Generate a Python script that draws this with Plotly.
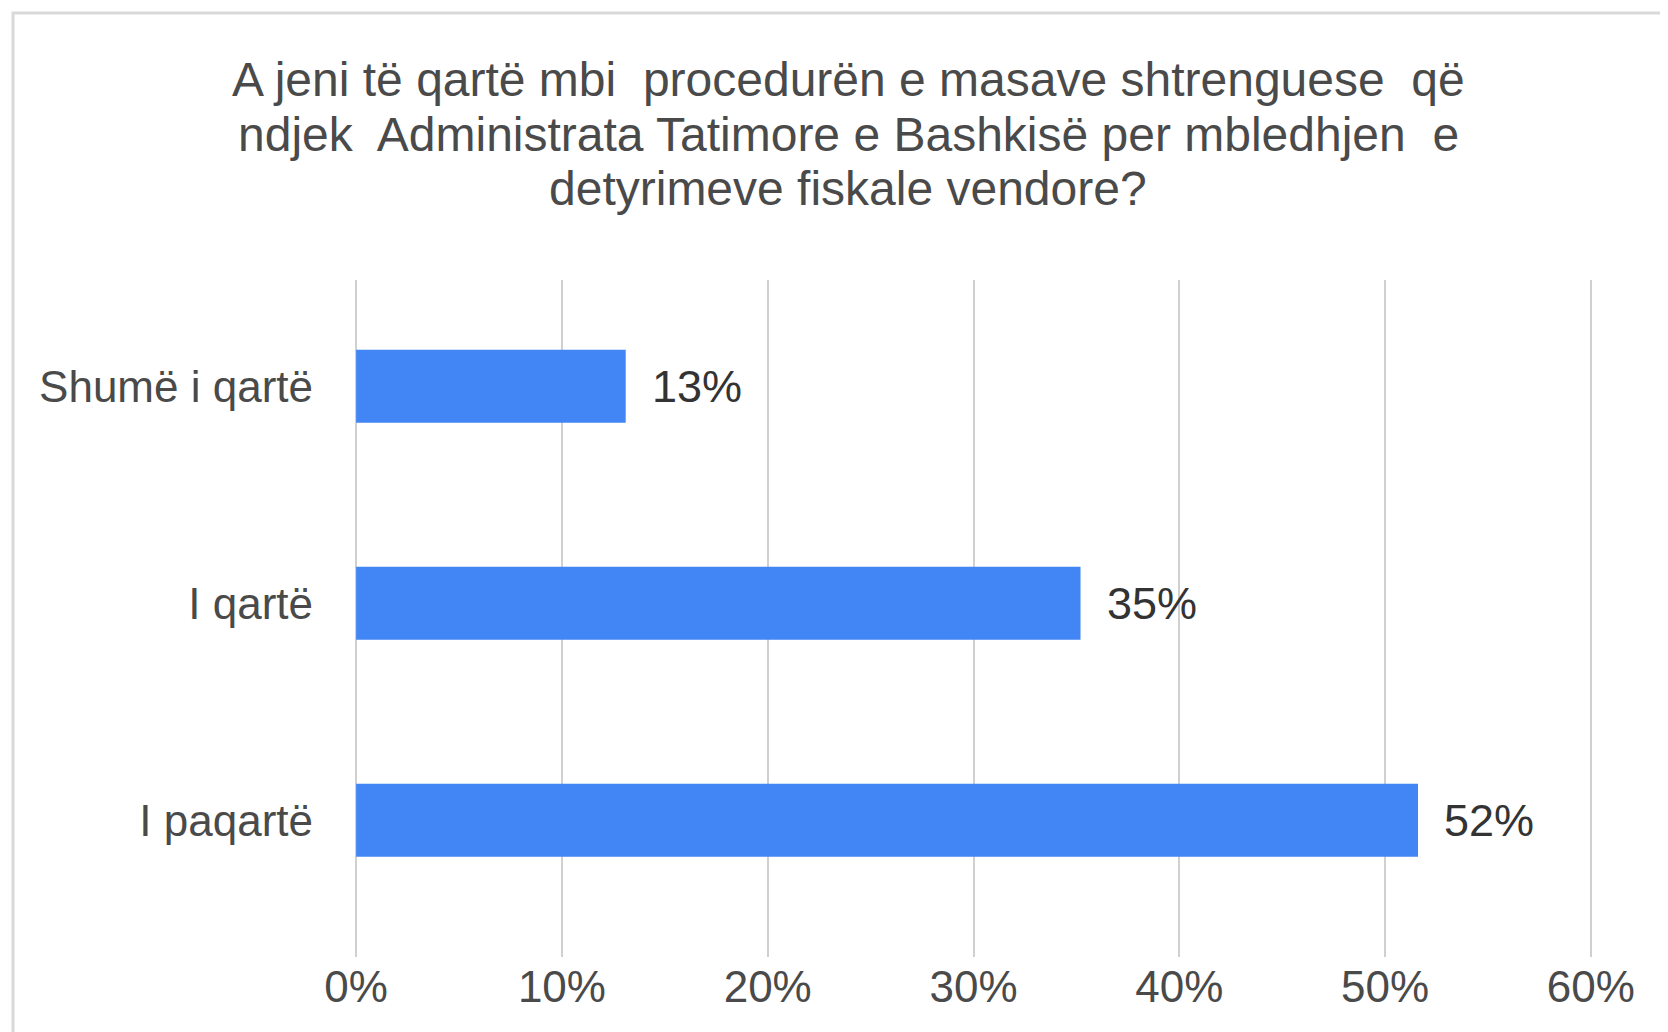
import plotly.graph_objects as go

categories = ["Shumë i qartë", "I qartë", "I paqartë"]
shares = [0.131, 0.352, 0.516]
tick_values = [0, 0.1, 0.2, 0.3, 0.4, 0.5, 0.6]
tick_labels = ["0%", "10%", "20%", "30%", "40%", "50%", "60%"]
title_lines = [
    "A jeni të qartë mbi  procedurën e masave shtrenguese  që",
    "ndjek  Administrata Tatimore e Bashkisë per mbledhjen  e",
    "detyrimeve fiskale vendore?",
]

FONT = "Liberation Sans, Arial, sans-serif"
TEXT = "#4a4a4a"
BLUE = "#4285F4"

# page has an 8px body margin, so figure coords = page coords - 8
W, H = 1668, 1032
x_lo, x_hi = -0.002, 0.602
ml, mr, mt, mb = 344, 81, 272, 83
pw, ph = W - ml - mr, H - mt - mb


def py(y_px):
    return (H - mb - y_px) / ph


def px_(x_px):
    return (x_px - ml) / pw


fig = go.Figure(
    go.Bar(
        x=shares,
        y=categories,
        orientation="h",
        marker=dict(color=BLUE, line=dict(width=0)),
        width=0.336,
        hoverinfo="skip",
    )
)

annotations = []
for cat, val in zip(categories, shares):
    annotations.append(dict(
        x=val, y=cat, xref="x", yref="y",
        text=f"{round(val * 100)}%", showarrow=False,
        xanchor="left", yanchor="middle", xshift=24,
        font=dict(family=FONT, size=45, color="#333333"),
    ))

for i, line in enumerate(title_lines):
    annotations.append(dict(
        x=px_(840), y=py(71 + i * 55), xref="paper", yref="paper",
        text=line, showarrow=False, xanchor="center", yanchor="middle",
        font=dict(family=FONT, size=48, color=TEXT),
    ))

fig.update_layout(
    width=W,
    height=H,
    margin=dict(l=ml, r=mr, t=mt, b=mb),
    paper_bgcolor="white",
    plot_bgcolor="white",
    showlegend=False,
    annotations=annotations,
    shapes=[dict(
        type="rect", xref="paper", yref="paper",
        x0=px_(5), x1=px_(1700), y0=py(5), y1=py(1100),
        line=dict(color="#d9d9d9", width=3),
        layer="below",
    )],
    xaxis=dict(
        range=[x_lo, x_hi],
        tickvals=tick_values,
        ticktext=tick_labels,
        showgrid=True,
        gridcolor="#d0d0d0",
        gridwidth=2,
        zeroline=False,
        showline=False,
        ticks="",
        ticklabelstandoff=0,
        tickfont=dict(family=FONT, size=44, color=TEXT),
    ),
    yaxis=dict(
        range=[2.63, -0.49],
        showgrid=False,
        zeroline=False,
        showline=False,
        ticks="",
        ticklabelstandoff=38,
        tickfont=dict(family=FONT, size=44, color=TEXT),
    ),
)

fig.write_html("out.html")
